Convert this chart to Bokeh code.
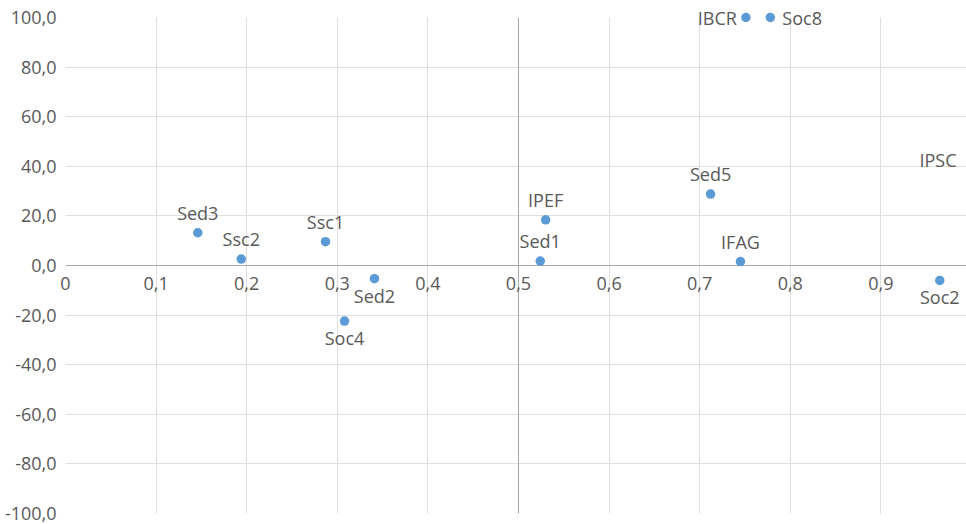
from bokeh.plotting import figure
from bokeh.models import ColumnDataSource, Span, FixedTicker, CustomJSTickFormatter, Range1d
from bokeh.core.properties import value
from bokeh.embed import file_html
from bokeh.resources import INLINE

# ---- data ----
names = ["Sed3", "Ssc2", "Ssc1", "Sed2", "Soc4", "Sed1", "IPEF", "Sed5", "IFAG", "Soc2", "IBCR", "Soc8", "IPSC"]
x_vals = [0.146, 0.194, 0.287, 0.341, 0.308, 0.524, 0.530, 0.712, 0.745, 0.965, 0.751, 0.778, 0.963]
y_vals = [13.2, 2.6, 9.6, -5.3, -22.4, 1.8, 18.4, 28.8, 1.6, -6.0, 100.0, 100.0, 34.3]
label_pos = ["above", "above", "above", "below", "below", "above", "above", "above", "above", "below", "left", "right", "above"]
marker_shown = [1, 1, 1, 1, 1, 1, 1, 1, 1, 1, 1, 1, 0]
x_ticks = [0, 0.1, 0.2, 0.3, 0.4, 0.5, 0.6, 0.7, 0.8, 0.9]
x_tick_labels = ["0", "0,1", "0,2", "0,3", "0,4", "0,5", "0,6", "0,7", "0,8", "0,9"]
y_ticks = [-100, -80, -60, -40, -20, 0, 20, 40, 60, 80, 100]

FONT = "Open Sans"
TXT = "#595959"
GRID = "#dedede"
AXIS = "#a6a6a6"

# screen-pixel offsets (y positive = down)
off = {"above": (0, -20, "center"), "below": (0, 17, "center"),
       "left": (-9, 0, "right"), "right": (12, 0, "left")}
src = ColumnDataSource(dict(
    x=x_vals, y=y_vals, name=names,
    xo=[off[p][0] for p in label_pos],
    yo=[off[p][1] for p in label_pos],
    al=[off[p][2] for p in label_pos],
    fa=marker_shown,
))
tick_src = ColumnDataSource(dict(x=x_ticks, y=[0] * len(x_ticks), t=x_tick_labels))

p = figure(width=966, height=524, output_backend="svg", toolbar_location=None,
           x_range=Range1d(0, 0.9945), y_range=Range1d(-100, 100),
           min_border_left=65, min_border_right=0, min_border_top=17, min_border_bottom=11)
p.outline_line_color = None
p.background_fill_color = "white"

# x axis crossing at y=0 (line only; tick labels drawn below)
xa = p.xaxis[0]
xa.fixed_location = 0
xa.ticker = FixedTicker(ticks=[])
xa.axis_line_color = AXIS
xa.major_tick_line_color = None
xa.minor_tick_line_color = None

ya = p.yaxis[0]
ya.ticker = FixedTicker(ticks=y_ticks)
ya.formatter = CustomJSTickFormatter(code="return tick.toFixed(1).replace('.', ',');")
ya.axis_line_color = None
ya.major_tick_line_color = None
ya.minor_tick_line_color = None
ya.major_label_text_font = FONT
ya.major_label_text_font_size = "18px"
ya.major_label_text_color = TXT
ya.major_label_standoff = 3

p.xgrid.ticker = FixedTicker(ticks=x_ticks)
p.ygrid.ticker = FixedTicker(ticks=y_ticks)
p.xgrid.grid_line_color = GRID
p.ygrid.grid_line_color = GRID

p.add_layout(Span(location=0.5, dimension="height", line_color=AXIS, line_width=1))

tr = p.text(x="x", y="y", text="t", source=tick_src, y_offset=18,
            text_align="center", text_baseline="middle", text_font=value(FONT),
            text_font_size="18px", text_color=TXT)
tr.level = "overlay"

r = p.scatter("x", "y", source=src, size=9.5, fill_color="#5b9bd5", line_color=None, fill_alpha="fa")
r.level = "overlay"

lr = p.text(x="x", y="y", text="name", source=src, x_offset="xo", y_offset="yo",
            text_align="al", text_baseline="middle", text_font=value(FONT),
            text_font_size="18px", text_color=TXT)
lr.level = "overlay"

open("out.html", "w").write(file_html(p, INLINE))
